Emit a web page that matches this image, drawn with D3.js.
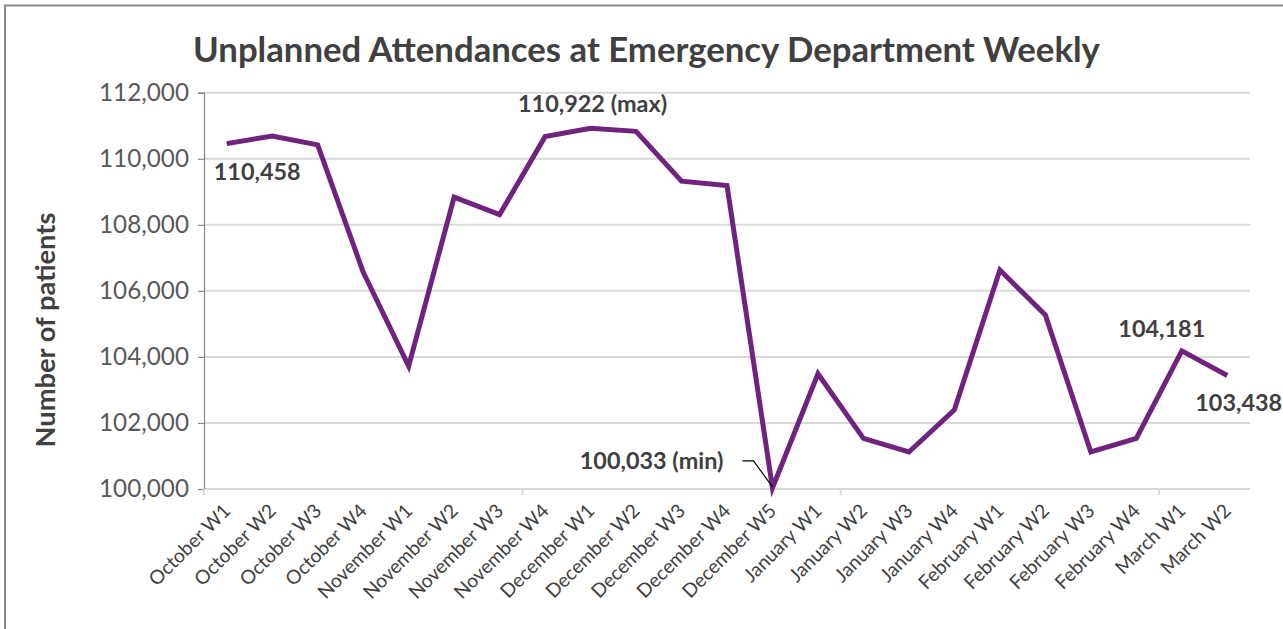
<!DOCTYPE html>
<html>
<head>
<meta charset="utf-8">
<script src="https://cdn.jsdelivr.net/npm/d3@7"></script>
<style>
  html, body { margin: 0; padding: 0; background: #fff; }
  svg { display: block; }
  text { font-family: Lato, "Open Sans", sans-serif; }
</style>
</head>
<body>
<svg id="chart" width="1283" height="629"></svg>
<script>
// ---- data ----
const categories = [
  "October W1","October W2","October W3","October W4",
  "November W1","November W2","November W3","November W4",
  "December W1","December W2","December W3","December W4","December W5",
  "January W1","January W2","January W3","January W4",
  "February W1","February W2","February W3","February W4",
  "March W1","March W2"
];
const attendances = [
  110458, 110690, 110420, 106570,
  103720, 108840, 108310, 110670,
  110922, 110830, 109320, 109190, 100033,
  103490, 101530, 101120, 102400,
  106630, 105270, 101120, 101530,
  104181, 103438
];
const yTickValues = [100000, 102000, 104000, 106000, 108000, 110000, 112000];
const titleText = "Unplanned Attendances at Emergency Department Weekly";
const yAxisTitle = "Number of patients";
// labelled points: index and suffix
const labelledPoints = [
  { idx: 0,  suffix: "" },
  { idx: 8,  suffix: " (max)" },
  { idx: 12, suffix: " (min)" },
  { idx: 21, suffix: "" },
  { idx: 22, suffix: "" }
];

// ---- layout ----
const svg = d3.select("#chart");
const plot = { left: 204, right: 1250, top: 92.7, bottom: 489 };
const fmt = d3.format(",");

const x = d3.scaleBand().domain(categories).range([plot.left, plot.right]).padding(0);
const cx = c => x(c) + x.bandwidth() / 2;
const y = d3.scaleLinear().domain([100000, 112000]).range([plot.bottom, plot.top]);

function fit(sel, target, base) {
  const n = sel.node();
  const w = n.getComputedTextLength();
  return base * target / w;
}

// border
svg.append("rect")
  .attr("x", 5).attr("y", 5.5).attr("width", 1300).attr("height", 660)
  .attr("fill", "none").attr("stroke", "#8c8c8c").attr("stroke-width", 2);

// title
const title = svg.append("text")
  .attr("x", 646.5).attr("y", 62)
  .attr("text-anchor", "middle")
  .attr("font-weight", "bold")
  .attr("fill", "#404040")
  .attr("font-size", 28)
  .text(titleText);
title.attr("font-size", fit(title, 907, 28));

// gridlines
svg.append("g").selectAll("line").data(yTickValues).join("line")
  .attr("x1", plot.left).attr("x2", plot.right)
  .attr("y1", d => y(d)).attr("y2", d => y(d))
  .attr("stroke", "#d9d9d9").attr("stroke-width", 2);

// y axis
const yAxis = d3.axisLeft(y).tickValues(yTickValues).tickFormat(fmt).tickSize(6).tickPadding(9);
const gy = svg.append("g").attr("transform", `translate(${plot.left},0)`).call(yAxis);
gy.select(".domain").attr("stroke", "#868686").attr("stroke-width", 1.2);
gy.selectAll(".tick line").attr("stroke", "#868686").attr("stroke-width", 1.2);
gy.selectAll(".tick text").attr("fill", "#595959").attr("font-size", 22)
  .attr("font-family", "Lato, 'Open Sans', sans-serif");
{
  const t = gy.selectAll(".tick text").filter(d => d === 112000);
  const fs = fit(t, 90, 22);
  gy.selectAll(".tick text").attr("font-size", fs);
}

// x axis (ticks every 7 categories)
const xTickCats = categories.filter((c, i) => i % 7 === 0);
const gx = svg.append("g");
gx.selectAll("line").data(xTickCats).join("line")
  .attr("x1", d => x(d)).attr("x2", d => x(d))
  .attr("y1", plot.bottom).attr("y2", plot.bottom + 6)
  .attr("stroke", "#d9d9d9").attr("stroke-width", 2);

const xl = svg.append("g").selectAll("text").data(categories).join("text")
  .attr("transform", d => `translate(${cx(d) + 5},${plot.bottom + 23}) rotate(-45)`)
  .attr("text-anchor", "end")
  .attr("fill", "#404040")
  .attr("font-size", 18)
  .text(d => d);
{
  const fs = fit(xl.filter(d => d === "October W1"), 106, 18);
  xl.attr("font-size", fs);
}

// y axis title
const yt = svg.append("text")
  .attr("transform", "translate(55,330) rotate(-90)")
  .attr("text-anchor", "middle")
  .attr("font-weight", "bold")
  .attr("fill", "#404040")
  .attr("font-size", 22)
  .text(yAxisTitle);
yt.attr("font-size", fit(yt, 235, 22));

// line
const line = d3.line().x((d, i) => cx(categories[i])).y(d => y(d));
svg.append("path")
  .datum(attendances)
  .attr("d", line)
  .attr("fill", "none")
  .attr("stroke", "#70227f")
  .attr("stroke-width", 5)
  .attr("stroke-linejoin", "miter");

// leader line for min
const minIdx = 12;
const mx = cx(categories[minIdx]), my = y(attendances[minIdx]);
svg.append("path")
  .attr("d", `M${mx - 30},${my - 27} L${mx - 19},${my - 27} L${mx},${my - 1}`)
  .attr("fill", "none").attr("stroke", "#000").attr("stroke-width", 1.2);

// data labels
const labelOffsets = {
  0:  { dx: -13, dy: 36, anchor: "start" },
  8:  { dx: 2,   dy: -16, anchor: "middle" },
  12: { dx: -49, dy: -19, anchor: "end" },
  21: { dx: -20, dy: -14, anchor: "middle" },
  22: { dx: -32, dy: 36, anchor: "start" }
};
const dl = svg.append("g").selectAll("text").data(labelledPoints).join("text")
  .attr("x", d => cx(categories[d.idx]) + labelOffsets[d.idx].dx)
  .attr("y", d => y(attendances[d.idx]) + labelOffsets[d.idx].dy)
  .attr("text-anchor", d => labelOffsets[d.idx].anchor)
  .attr("font-weight", "bold")
  .attr("fill", "#404040")
  .attr("font-size", 22)
  .text(d => fmt(attendances[d.idx]) + d.suffix);
{
  const fs = fit(dl.filter(d => d.idx === 0), 87, 22);
  dl.attr("font-size", fs);
}
</script>
</body>
</html>
